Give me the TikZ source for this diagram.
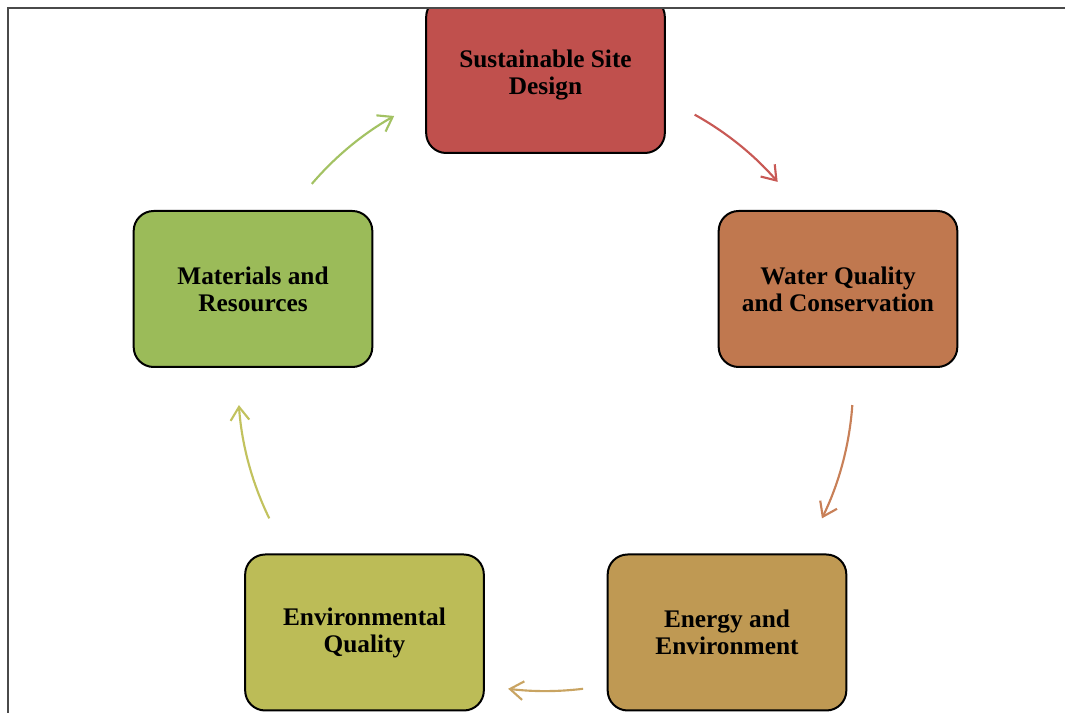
\documentclass[tikz,border=0pt]{standalone}
\usepackage{fontspec}
\setmainfont{Liberation Serif}
\usetikzlibrary{arrows.meta}
\definecolor{cSite}{HTML}{C0504D}
\definecolor{cWater}{HTML}{C0784F}
\definecolor{cEnergy}{HTML}{BF9953}
\definecolor{cEnv}{HTML}{BCBC57}
\definecolor{cMat}{HTML}{9BBB59}
\definecolor{aSite}{HTML}{C85955}
\definecolor{aWater}{HTML}{C88058}
\definecolor{aEnergy}{HTML}{C9A462}
\definecolor{aEnv}{HTML}{C2C25E}
\definecolor{aMat}{HTML}{A3C263}
\definecolor{frameC}{HTML}{4A4A4A}
\tikzset{
  stagebox/.style={draw=black, line width=1.5pt, rounded corners=15pt,
    minimum width=179pt, minimum height=117pt, inner sep=0pt,
    align=center, font=\bfseries\fontsize{19}{20.3}\selectfont, text=black},
  cyclearrow/.style={line width=1.6pt, -{Straight Barb[length=10pt,width=14pt]}}
}
\begin{document}
\begin{tikzpicture}[x=0.75pt,y=0.75pt]
\useasboundingbox (0,0) rectangle (1065,713);
\begin{scope}
\clip (0,0) rectangle (1065,705);
\node[stagebox, fill=cSite] (site) at (545.5,638) {Sustainable Site\\Design};
\end{scope}
\node[stagebox, fill=cWater] (water) at (838,424) {Water Quality\\and Conservation};
\node[stagebox, fill=cEnergy] (energy) at (727,80.5) {Energy and\\Environment};
\node[stagebox, fill=cEnv] (env) at (364.5,80.5) {Environmental\\Quality};
\node[stagebox, fill=cMat] (mat) at (253,424) {Materials and\\Resources};
\coordinate (c) at (545.6,329.4);
\path (c) ++(61:230.6pt) coordinate (a1);
\path (c) ++(-4:230.6pt) coordinate (a2);
\path (c) ++(-83:230.6pt) coordinate (a3);
\path (c) ++(206:230.6pt) coordinate (a4);
\path (c) ++(139.5:230.6pt) coordinate (a5);
\draw[cyclearrow, aSite] (a1) arc[start angle=61, end angle=41, radius=230.6pt];
\draw[cyclearrow, aWater] (a2) arc[start angle=-4, end angle=-26, radius=230.6pt];
\draw[cyclearrow, aEnergy] (a3) arc[start angle=-83, end angle=-97, radius=230.6pt];
\draw[cyclearrow, aEnv] (a4) arc[start angle=206, end angle=184, radius=230.6pt];
\draw[cyclearrow, aMat] (a5) arc[start angle=139.5, end angle=119.5, radius=230.6pt];
\draw[frameC, line width=1.3pt] (8,0) -- (8,705) -- (1065,705);
\end{tikzpicture}
\end{document}
